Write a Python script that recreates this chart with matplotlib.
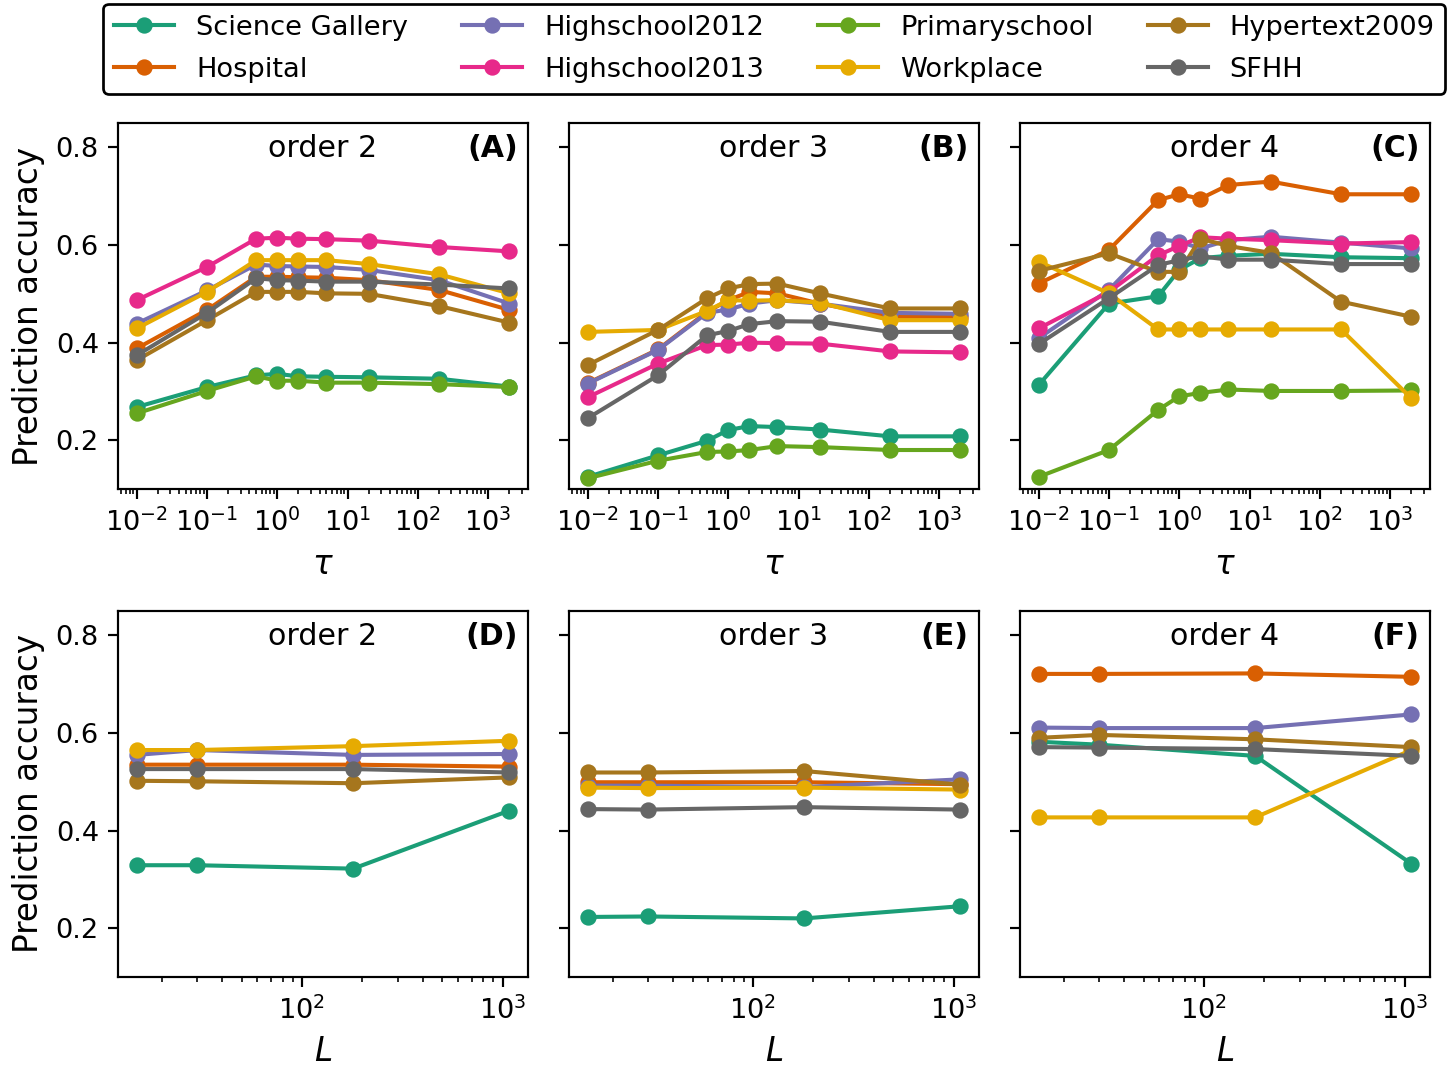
import numpy as np
import matplotlib.pyplot as plt
from matplotlib.ticker import LogLocator

DPI = 196

datasets = ["Science Gallery", "Hospital", "Highschool2012", "Highschool2013",
            "Primaryschool", "Workplace", "Hypertext2009", "SFHH"]
colors = ["#1b9e77", "#d95f02", "#7570b3", "#e7298a",
          "#66a61e", "#e6ab02", "#a6761d", "#666666"]

tau = [0.01, 0.1, 0.5, 1, 2, 5, 20, 200, 2000]
L = [15, 30, 180, 1080]

# accuracy vs tau, one dict per order
tau_order2 = {
    "Science Gallery": [0.268, 0.309, 0.333, 0.336, 0.331, 0.330, 0.329, 0.326, 0.310],
    "Hospital":        [0.388, 0.467, 0.535, 0.535, 0.534, 0.533, 0.528, 0.508, 0.467],
    "Highschool2012":  [0.439, 0.507, 0.560, 0.557, 0.556, 0.555, 0.549, 0.528, 0.480],
    "Highschool2013":  [0.487, 0.555, 0.613, 0.615, 0.613, 0.612, 0.609, 0.596, 0.587],
    "Primaryschool":   [0.255, 0.301, 0.331, 0.322, 0.322, 0.318, 0.318, 0.315, 0.309],
    "Workplace":       [0.429, 0.504, 0.569, 0.569, 0.569, 0.569, 0.561, 0.540, 0.501],
    "Hypertext2009":   [0.364, 0.446, 0.504, 0.504, 0.504, 0.501, 0.500, 0.475, 0.441],
    "SFHH":            [0.374, 0.461, 0.532, 0.528, 0.527, 0.525, 0.525, 0.519, 0.511],
}
tau_order3 = {
    "Science Gallery": [0.125, 0.169, 0.199, 0.221, 0.229, 0.227, 0.222, 0.208, 0.208],
    "Hospital":        [0.317, 0.386, 0.463, 0.487, 0.504, 0.501, 0.480, 0.453, 0.453],
    "Highschool2012":  [0.316, 0.385, 0.461, 0.468, 0.480, 0.487, 0.480, 0.461, 0.459],
    "Highschool2013":  [0.288, 0.357, 0.395, 0.396, 0.400, 0.399, 0.398, 0.382, 0.380],
    "Primaryschool":   [0.122, 0.158, 0.176, 0.177, 0.180, 0.188, 0.186, 0.180, 0.180],
    "Workplace":       [0.422, 0.426, 0.465, 0.487, 0.486, 0.487, 0.482, 0.446, 0.446],
    "Hypertext2009":   [0.354, 0.426, 0.491, 0.511, 0.520, 0.521, 0.501, 0.470, 0.470],
    "SFHH":            [0.245, 0.333, 0.415, 0.424, 0.438, 0.444, 0.443, 0.422, 0.422],
}
tau_order4 = {
    "Science Gallery": [0.313, 0.480, 0.495, 0.549, 0.573, 0.578, 0.582, 0.575, 0.573],
    "Hospital":        [0.521, 0.590, 0.692, 0.704, 0.695, 0.723, 0.730, 0.704, 0.704],
    "Highschool2012":  [0.409, 0.508, 0.612, 0.607, 0.593, 0.610, 0.617, 0.605, 0.593],
    "Highschool2013":  [0.429, 0.504, 0.579, 0.598, 0.616, 0.613, 0.610, 0.603, 0.606],
    "Primaryschool":   [0.125, 0.180, 0.262, 0.290, 0.297, 0.304, 0.301, 0.301, 0.302],
    "Workplace":       [0.566, 0.501, 0.427, 0.427, 0.427, 0.427, 0.427, 0.427, 0.286],
    "Hypertext2009":   [0.547, 0.583, 0.545, 0.545, 0.613, 0.598, 0.584, 0.484, 0.453],
    "SFHH":            [0.397, 0.491, 0.559, 0.569, 0.577, 0.570, 0.570, 0.561, 0.561],
}

# accuracy vs L, one dict per order
L_order2 = {
    "Science Gallery": [0.329, 0.329, 0.322, 0.441],
    "Hospital":        [0.535, 0.535, 0.535, 0.531],
    "Highschool2012":  [0.555, 0.565, 0.555, 0.557],
    "Workplace":       [0.565, 0.565, 0.573, 0.584],
    "Hypertext2009":   [0.502, 0.501, 0.497, 0.509],
    "SFHH":            [0.526, 0.526, 0.526, 0.519],
}
L_order3 = {
    "Science Gallery": [0.223, 0.224, 0.220, 0.245],
    "Hospital":        [0.499, 0.499, 0.499, 0.495],
    "Highschool2012":  [0.492, 0.492, 0.489, 0.505],
    "Workplace":       [0.488, 0.487, 0.488, 0.484],
    "Hypertext2009":   [0.519, 0.519, 0.522, 0.494],
    "SFHH":            [0.444, 0.443, 0.448, 0.443],
}
L_order4 = {
    "Science Gallery": [0.582, 0.576, 0.553, 0.332],
    "Hospital":        [0.721, 0.721, 0.722, 0.715],
    "Highschool2012":  [0.611, 0.610, 0.610, 0.638],
    "Workplace":       [0.427, 0.427, 0.427, 0.565],
    "Hypertext2009":   [0.590, 0.596, 0.587, 0.571],
    "SFHH":            [0.571, 0.570, 0.567, 0.553],
}

panels = [
    (tau, tau_order2, "order 2", "(A)", r"$\tau$"),
    (tau, tau_order3, "order 3", "(B)", r"$\tau$"),
    (tau, tau_order4, "order 4", "(C)", r"$\tau$"),
    (L, L_order2, "order 2", "(D)", r"$L$"),
    (L, L_order3, "order 3", "(E)", r"$L$"),
    (L, L_order4, "order 4", "(F)", r"$L$"),
]

fig, axes = plt.subplots(2, 3, figsize=(1450 / DPI, 1066 / DPI), dpi=DPI, sharey=True)
fig.subplots_adjust(left=0.0814, right=0.9862, top=0.8846, bottom=0.0835,
                    wspace=0.1, hspace=0.333)

for ax, (x, data, order, tag, xlab) in zip(axes.flat, panels):
    for name, c in zip(datasets, colors):
        if name in data:
            ax.plot(x, data[name], "o-", color=c, lw=1.5, ms=5, label=name)
    ax.set_xscale("log")
    ax.xaxis.set_major_locator(LogLocator(base=10, numticks=20))
    ax.xaxis.set_minor_locator(LogLocator(base=10, subs=np.arange(2, 10), numticks=20))
    ax.set_xlabel(xlab, fontsize=12)
    ax.text(0.5, 0.93, order, transform=ax.transAxes, ha="center", va="center", fontsize=11)
    ax.text(0.975, 0.93, tag, transform=ax.transAxes, ha="right", va="center",
            fontsize=11, fontweight="bold")

axes[0, 0].set_ylim(0.1, 0.85)
axes[0, 0].set_yticks([0.2, 0.4, 0.6, 0.8])
for ax in axes[:, 0]:
    ax.set_ylabel("Prediction accuracy", fontsize=12)

handles, labels = axes[0, 0].get_legend_handles_labels()
fig.legend(handles, labels, loc="upper center", bbox_to_anchor=(0.534, 0.999),
           ncol=4, edgecolor="k", fancybox=True, framealpha=1, borderaxespad=0.1,
           handlelength=2.2, labelspacing=0.6)

fig.savefig("out.png", dpi=DPI)
